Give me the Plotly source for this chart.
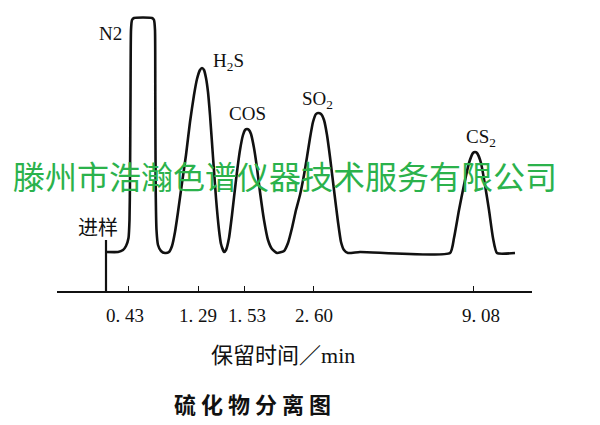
import plotly.graph_objects as go

# ---- data (x in display position units, y = detector signal units) ----
curve_x = [107, 118, 123, 126, 128.5, 129.5, 130, 130.5, 131, 132, 134, 152, 154, 155, 155.3, 155.7, 156.5, 158, 161, 165,
           169, 172, 175, 178, 182, 186, 190, 194, 197, 200, 202, 204, 206, 208, 210, 213, 216, 219, 221, 224,
           226, 229, 232, 236, 240, 243, 245, 247, 249, 251, 254, 257, 260, 264, 268, 272, 277,
           284, 288, 292, 296, 300, 304, 307, 310, 313, 316, 318, 321, 324, 327, 330, 334, 338, 341, 344, 348,
           360, 450, 454, 459, 464, 469, 473, 475, 477, 481, 485, 489, 493, 497, 515]
curve_y = [39, 39, 41, 45, 53, 71, 111, 191, 261, 271, 273, 273, 271, 261, 191, 101, 61, 46, 40, 38,
           39, 45, 59, 79, 108, 136, 169, 196, 212, 221, 223, 221, 213, 199, 176, 134, 93, 61, 47, 39,
           41, 53, 76, 111, 141, 156, 161, 162, 161, 157, 143, 123, 99, 71, 51, 42, 38,
           40, 48, 63, 81, 96, 116, 134, 153, 169, 177, 178, 177, 171, 156, 134, 101, 69, 49, 41, 38,
           39, 38, 53, 81, 106, 128, 138, 139, 138, 128, 106, 81, 53, 38, 38]

inject_x = [106, 106]
inject_y = [0, 51]

tick_pos = [128, 198, 244, 313, 473]
tick_labels = ["0. 43", "1. 29", "1. 53", "2. 60", "9. 08"]
tick_label_pos = [125, 198, 247, 314, 481]

peak_names = ["N2", "H<sub>2</sub>S", "COS", "SO<sub>2</sub>", "CS<sub>2</sub>"]
peak_label_x = [110, 228, 247, 317, 481]
peak_label_y = [258, 229, 178, 191, 153]

Y_MAX = 280

fig = go.Figure()
fig.add_trace(go.Scatter(x=curve_x, y=curve_y, mode="lines",
                         line=dict(color="#111111", width=2.6, shape="spline", smoothing=0.5),
                         hoverinfo="skip", showlegend=False))
fig.add_trace(go.Scatter(x=inject_x, y=inject_y, mode="lines",
                         line=dict(color="#111111", width=2.2),
                         hoverinfo="skip", showlegend=False))

ann = []
for name, x, y in zip(peak_names, peak_label_x, peak_label_y):
    ann.append(dict(x=x, y=y, xref="x", yref="y", text=name, showarrow=False,
                    xanchor="center", yanchor="middle",
                    font=dict(family="Liberation Serif", size=19, color="#111111")))
for lab, x in zip(tick_labels, tick_label_pos):
    ann.append(dict(x=x, y=-24 / Y_MAX, xref="x", yref="paper", text=lab, showarrow=False,
                    xanchor="center", yanchor="middle",
                    font=dict(family="Liberation Serif", size=19, color="#111111")))
ann.append(dict(x=98, y=65, xref="x", yref="y", text="进样", showarrow=False,
                xanchor="center", yanchor="middle",
                font=dict(family="Noto Sans CJK SC", size=20, color="#111111")))
ann.append(dict(x=283, y=-62 / Y_MAX, xref="x", yref="paper",
                text="保留时间／<span style='font-family:Liberation Serif'>min</span>", showarrow=False,
                xanchor="center", yanchor="middle",
                font=dict(family="Noto Sans CJK SC", size=22, color="#111111")))
ann.append(dict(x=252, y=-112 / Y_MAX, xref="x", yref="paper", text="<b>硫 化 物 分 离 图</b>", showarrow=False,
                xanchor="center", yanchor="middle",
                font=dict(family="Noto Sans CJK SC", size=22, color="#111111")))
ann.append(dict(x=284.5, y=116, xref="x", yref="y", text="滕州市浩瀚色谱仪器技术服务有限公司", showarrow=False,
                xanchor="center", yanchor="middle",
                font=dict(family="Noto Sans CJK SC", size=32, color="#2bb24c")))

# page body has an 8px margin, so the figure is sized/offset to land on the 600x425 window
fig.update_layout(
    width=592, height=417,
    margin=dict(l=49, r=68, t=3, b=134),
    paper_bgcolor="white", plot_bgcolor="white",
    xaxis=dict(range=[57, 532], showgrid=False, zeroline=False, showline=True,
               linecolor="#111111", linewidth=2, ticks="inside", ticklen=5, tickwidth=1.2,
               tickcolor="#111111", tickvals=tick_pos, showticklabels=False, fixedrange=True),
    yaxis=dict(range=[0, Y_MAX], visible=False, fixedrange=True),
    annotations=ann,
)

fig.write_html("out.html")
